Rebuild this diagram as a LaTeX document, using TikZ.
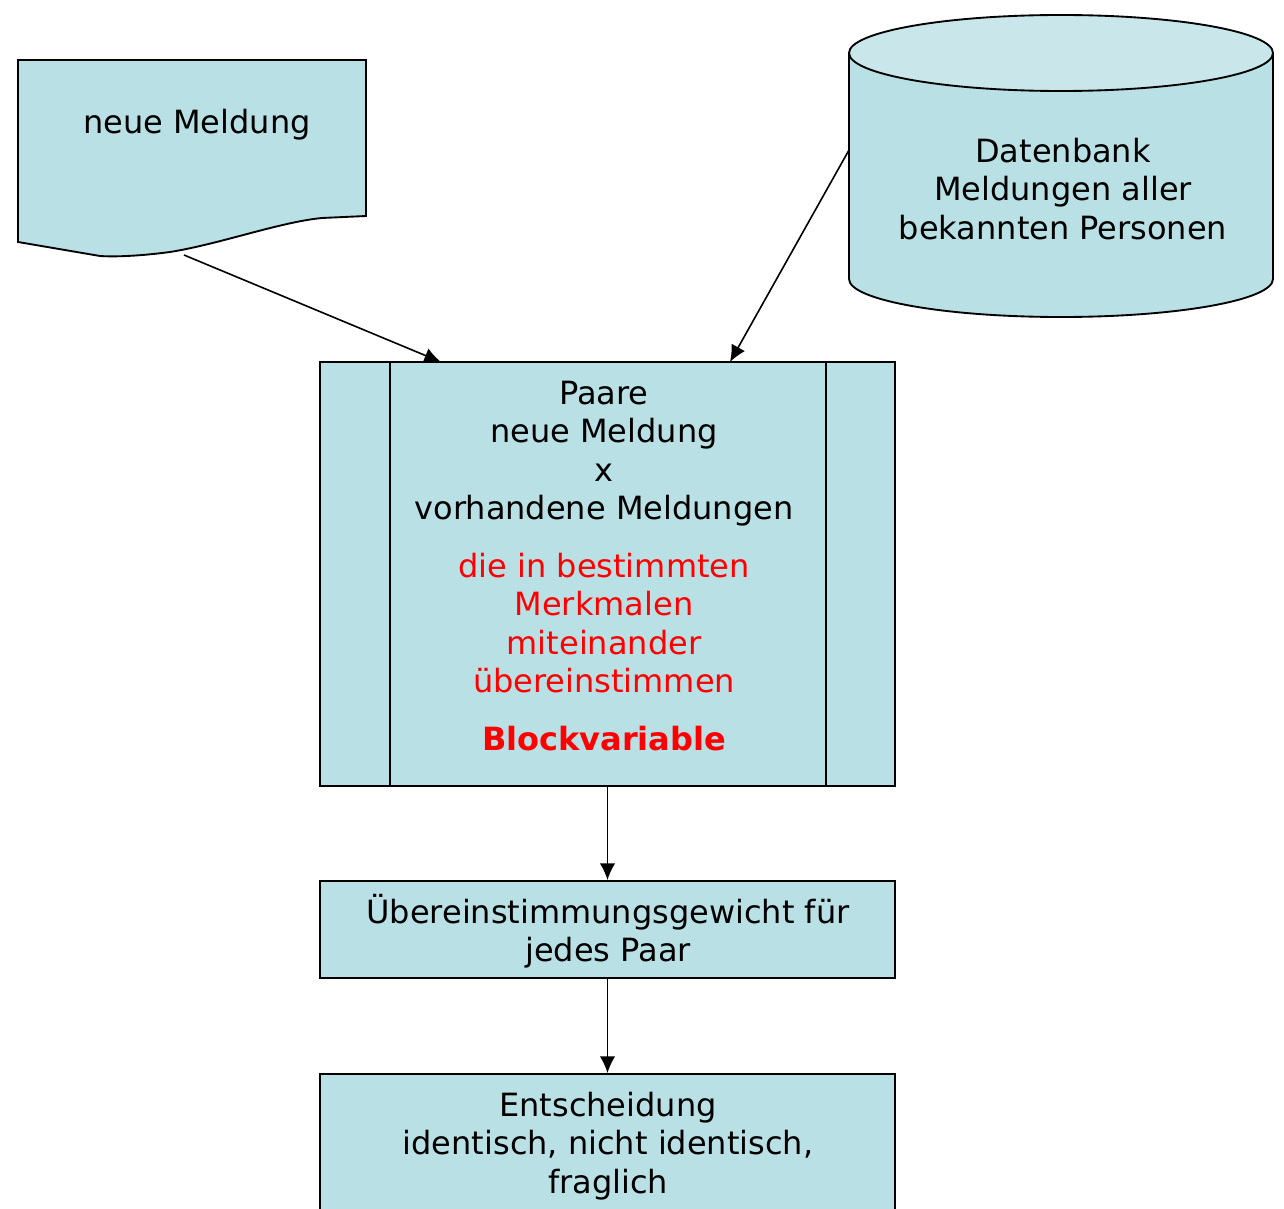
\documentclass[tikz,border=0pt]{standalone}
\usepackage{fontspec}
\setmainfont{DejaVu Sans}
\usetikzlibrary{arrows.meta,fit}
\definecolor{boxfill}{RGB}{185,224,228}
\definecolor{topfill}{RGB}{201,231,234}
\definecolor{redtxt}{RGB}{255,0,0}
\begin{document}
\begin{tikzpicture}[x=0.75pt,y=-0.75pt,
  shapeline/.style={draw=black,line width=1.4pt,fill=boxfill},
  boxnode/.style={shapeline,inner sep=0pt,rectangle},
  arr/.style={draw=black,line width=1.2pt,-{Latex[length=12.5pt,width=11.5pt]}},
  txt/.style={anchor=north,inner sep=0pt,align=center,
    font=\fontsize{24pt}{28.9pt}\selectfont},
  redt/.style={txt,text=redtxt}]
\clip (0,0) rectangle (1284,1209);
% document shape
\path[shapeline] (18,60) -- (366,60) -- (366,216) -- (322,218)
  .. controls (280,222) and (220,244) .. (170,252)
  .. controls (140,256) and (115,257) .. (100,256) -- (18,242) -- cycle;
\node[txt] (doctxt) at (197,101) {\rule{0pt}{24pt}neue Meldung};
% database cylinder
\path[shapeline] (849,53) -- (849,279) arc[start angle=180,end angle=0,x radius=212,y radius=38]
  -- (1273,53) -- cycle;
\path[shapeline,fill=topfill] (1061,53) ellipse[x radius=212,y radius=38];
\node[txt] (dbtxt) at (1063,130) {\rule{0pt}{24pt}Datenbank\\Meldungen aller\\bekannten Personen};
% predefined process box
\node[boxnode,fit={(320,362) (895,786)}] (pairs) {};
\draw[line width=1.4pt] (390,362) -- (390,786);
\draw[line width=1.4pt] (826,362) -- (826,786);
\node[txt] (pairstxt) at (604,372) {\rule{0pt}{24pt}Paare\\neue Meldung\\x\\vorhandene Meldungen};
\node[redt] (redtxt) at (604,545) {\rule{0pt}{24pt}die in bestimmten\\Merkmalen\\miteinander\\übereinstimmen};
\node[redt,font=\fontsize{24pt}{28.9pt}\selectfont\bfseries] (blocktxt) at (604,718) {\rule{0pt}{24pt}Blockvariable};
% weight box
\node[boxnode,fit={(320,881) (895,978)}] (weight) {};
\node[txt] (weighttxt) at (608,891) {\rule{0pt}{24pt}Übereinstimmungsgewicht für\\jedes Paar};
% decision box
\node[boxnode,fit={(320,1074) (895,1230)}] (decision) {};
\node[txt] (decisiontxt) at (608,1084) {\rule{0pt}{24pt}Entscheidung\\identisch, nicht identisch,\\fraglich};
% connectors
\coordinate (docout) at (184,255);
\coordinate (pin1) at (441,362);
\coordinate (dbout) at (849,150);
\coordinate (pin2) at (730,362);
\draw[arr] (docout) -- (pin1);
\draw[arr] (dbout) -- (pin2);
\draw[arr] (pairs.south) -- (weight.north);
\draw[arr] (weight.south) -- (decision.north);
\end{tikzpicture}
\end{document}
